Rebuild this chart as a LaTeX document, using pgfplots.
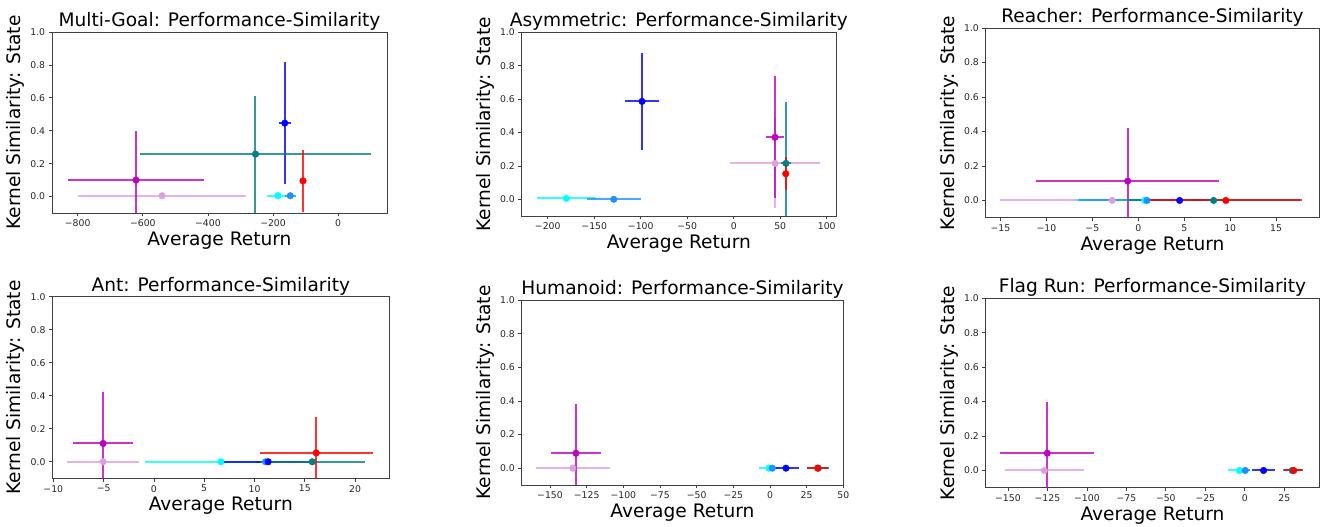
\documentclass[border=0pt]{standalone}
\usepackage{pgfplots}
\pgfplotsset{compat=1.18}
\usepackage{fontspec}
\setmainfont{DejaVu Sans}

\definecolor{cmag}{HTML}{BF00BF}
\definecolor{cplum}{HTML}{DDA0DD}
\definecolor{ccyan}{HTML}{00FFFF}
\definecolor{cdodger}{HTML}{1E90FF}
\definecolor{cblue}{HTML}{0000FF}
\definecolor{cteal}{HTML}{008080}
\definecolor{cred}{HTML}{FF0000}

\pgfplotsset{
  panel/.style={
    scale only axis, anchor=south west, clip=true,
    ymin=-0.1, ymax=1.0,
    ytick={0,0.2,0.4,0.6,0.8,1.0},
    yticklabels={0.0,0.2,0.4,0.6,0.8,1.0},
    tick align=outside, tick pos=left,
    major tick length=3.3pt,
    axis line style={black!75, line width=0.75pt},
    every tick/.style={black!75, line width=0.75pt},
    tick label style={font=\fontsize{9.3}{10}\selectfont, text=black!85},
    xlabel={Average Return},
    ylabel={Kernel Similarity: State},
    every axis x label/.style={at={(axis description cs:0.5,0)}, anchor=base,
      yshift=-32.5pt, font=\fontsize{18.6}{20}\selectfont},
    every axis y label/.style={at={(axis description cs:0,0.5)}, xshift=-31.5pt,
      rotate=90, anchor=base, font=\fontsize{18.6}{20}\selectfont},
    every axis title/.style={at={(axis description cs:0.5,1)}, anchor=base,
      yshift=5.6pt, font=\fontsize{18.6}{20}\selectfont},
  },
  % error bar segment (from lo to hi) and the mean point
  bar/.style={draw=#1, draw opacity=0.8, line width=2pt, no markers, forget plot},
  pt/.style={only marks, mark=*, mark size=3.3pt, color=#1,
    mark options={solid, fill=#1, draw=none}},
}

\begin{document}
\begin{tikzpicture}
\useasboundingbox (0pt,0pt) rectangle (1323pt,527pt);

% Multi-Goal
\begin{axis}[panel, at={(52pt,314pt)}, width=335pt, height=181pt,
  title={Multi-Goal: Performance-Similarity},
  xmin=-879, xmax=150,
  xtick={-800,-600,-400,-200,0},
  xticklabels={−800,−600,−400,−200,0}]
\addplot[bar=cplum] coordinates {(-798,0.005) (-284,0.005)};
\addplot[pt=cplum] coordinates {(-541,0.005)};
\addplot[bar=cmag] coordinates {(-831,0.10) (-411,0.10)};
\addplot[bar=cmag] coordinates {(-621,-0.20) (-621,0.40)};
\addplot[pt=cmag] coordinates {(-621,0.10)};
\addplot[bar=ccyan] coordinates {(-220,0.005) (-150,0.005)};
\addplot[pt=ccyan] coordinates {(-185,0.005)};
\addplot[bar=cdodger] coordinates {(-163,0.005) (-131,0.005)};
\addplot[pt=cdodger] coordinates {(-147,0.005)};
\addplot[bar=cblue] coordinates {(-182,0.446) (-146,0.446)};
\addplot[bar=cblue] coordinates {(-164,0.076) (-164,0.816)};
\addplot[pt=cblue] coordinates {(-164,0.446)};
\addplot[bar=cteal] coordinates {(-610,0.258) (102,0.258)};
\addplot[bar=cteal] coordinates {(-254,-0.097) (-254,0.613)};
\addplot[pt=cteal] coordinates {(-254,0.258)};
\addplot[bar=cred] coordinates {(-112,0.095) (-104,0.095)};
\addplot[bar=cred] coordinates {(-108,-0.095) (-108,0.285)};
\addplot[pt=cred] coordinates {(-108,0.095)};
\end{axis}

% Asymmetric
\begin{axis}[panel, at={(521.7pt,311pt)}, width=314.3pt, height=183.7pt,
  title={Asymmetric: Performance-Similarity},
  xmin=-228, xmax=110,
  xtick={-200,-150,-100,-50,0,50,100},
  xticklabels={−200,−150,−100,−50,0,50,100}]
\addplot[bar=cplum] coordinates {(-3.5,0.215) (92.5,0.215)};
\addplot[bar=cplum] coordinates {(44.5,-0.055) (44.5,0.485)};
\addplot[bar=cmag] coordinates {(34.4,0.371) (54.4,0.371)};
\addplot[bar=cmag] coordinates {(44.4,0.006) (44.4,0.736)};
\addplot[pt=cmag] coordinates {(44.4,0.371)};
\addplot[pt=cplum] coordinates {(44.5,0.215)};
\addplot[bar=ccyan] coordinates {(-212,0.005) (-148,0.005)};
\addplot[pt=ccyan] coordinates {(-180,0.005)};
\addplot[bar=cdodger] coordinates {(-158,0) (-100,0)};
\addplot[pt=cdodger] coordinates {(-129,0)};
\addplot[bar=cblue] coordinates {(-116.6,0.586) (-80.6,0.586)};
\addplot[bar=cblue] coordinates {(-98.6,0.296) (-98.6,0.876)};
\addplot[pt=cblue] coordinates {(-98.6,0.586)};
\addplot[bar=cteal] coordinates {(51.2,0.215) (61.2,0.215)};
\addplot[bar=cteal] coordinates {(56.2,-0.155) (56.2,0.585)};
\addplot[pt=cteal] coordinates {(56.2,0.215)};
\addplot[bar=cred] coordinates {(55,0.153) (57,0.153)};
\addplot[bar=cred] coordinates {(56,0.053) (56,0.253)};
\addplot[pt=cred] coordinates {(56,0.153)};
\end{axis}

% Reacher
\begin{axis}[panel, at={(985.7pt,309.3pt)}, width=333.6pt, height=189.7pt,
  title={Reacher: Performance-Similarity},
  xmin=-16.6, xmax=19.7,
  xtick={-15,-10,-5,0,5,10,15},
  xticklabels={−15,−10,−5,0,5,10,15}]
\addplot[bar=cplum] coordinates {(-15.03,0) (9.37,0)};
\addplot[pt=cplum] coordinates {(-2.83,0)};
\addplot[bar=cmag] coordinates {(-11.1,0.112) (8.8,0.112)};
\addplot[bar=cmag] coordinates {(-1.15,-0.198) (-1.15,0.422)};
\addplot[pt=cmag] coordinates {(-1.15,0.112)};
\addplot[bar=ccyan] coordinates {(-6.75,0) (8.15,0)};
\addplot[pt=ccyan] coordinates {(0.7,0)};
\addplot[bar=cdodger] coordinates {(-6.5,0) (8.4,0)};
\addplot[pt=cdodger] coordinates {(0.95,0)};
\addplot[bar=cblue] coordinates {(1.5,0) (7.5,0)};
\addplot[pt=cblue] coordinates {(4.5,0)};
\addplot[bar=cteal] coordinates {(-1.25,0) (17.65,0)};
\addplot[pt=cteal] coordinates {(8.2,0)};
\addplot[bar=cred] coordinates {(1.23,0) (17.83,0)};
\addplot[pt=cred] coordinates {(9.53,0)};
\end{axis}

% Ant
\begin{axis}[panel, at={(52.3pt,48.7pt)}, width=337pt, height=181.6pt,
  title={Ant: Performance-Similarity},
  xmin=-10.1, xmax=23.4,
  xtick={-10,-5,0,5,10,15,20},
  xticklabels={−10,−5,0,5,10,15,20}]
\addplot[bar=cplum] coordinates {(-8.65,0) (-1.45,0)};
\addplot[pt=cplum] coordinates {(-5.05,0)};
\addplot[bar=cmag] coordinates {(-8.05,0.111) (-2.05,0.111)};
\addplot[bar=cmag] coordinates {(-5.05,-0.199) (-5.05,0.421)};
\addplot[pt=cmag] coordinates {(-5.05,0.111)};
\addplot[bar=ccyan] coordinates {(-0.84,0) (14.16,0)};
\addplot[pt=ccyan] coordinates {(6.66,0)};
\addplot[bar=cdodger] coordinates {(10.1,0) (12.1,0)};
\addplot[pt=cdodger] coordinates {(11.1,0)};
\addplot[bar=cblue] coordinates {(6.86,0) (15.86,0)};
\addplot[pt=cblue] coordinates {(11.36,0)};
\addplot[bar=cteal] coordinates {(10.54,0) (20.94,0)};
\addplot[pt=cteal] coordinates {(15.74,0)};
\addplot[bar=cred] coordinates {(10.54,0.054) (21.74,0.054)};
\addplot[bar=cred] coordinates {(16.14,-0.166) (16.14,0.274)};
\addplot[pt=cred] coordinates {(16.14,0.054)};
\end{axis}

% Humanoid
\begin{axis}[panel, at={(521.7pt,42pt)}, width=321.6pt, height=185pt,
  title={Humanoid: Performance-Similarity},
  xmin=-169.3, xmax=50,
  xtick={-150,-125,-100,-75,-50,-25,0,25,50},
  xticklabels={−150,−125,−100,−75,−50,−25,0,25,50}]
\addplot[bar=cplum] coordinates {(-159.7,0) (-109.3,0)};
\addplot[pt=cplum] coordinates {(-134.5,0)};
\addplot[bar=cmag] coordinates {(-149.3,0.089) (-115.3,0.089)};
\addplot[bar=cmag] coordinates {(-132.3,-0.201) (-132.3,0.379)};
\addplot[pt=cmag] coordinates {(-132.3,0.089)};
\addplot[bar=ccyan] coordinates {(-7.7,0) (6.3,0)};
\addplot[pt=ccyan] coordinates {(-0.7,0)};
\addplot[bar=cdodger] coordinates {(-1.4,0) (4.6,0)};
\addplot[pt=cdodger] coordinates {(1.6,0)};
\addplot[bar=cblue] coordinates {(1.9,0) (19.9,0)};
\addplot[pt=cblue] coordinates {(10.9,0)};
\addplot[bar=cteal] coordinates {(25.5,0) (40.5,0)};
\addplot[pt=cteal] coordinates {(33,0)};
\addplot[bar=cred] coordinates {(25.5,0) (39.5,0)};
\addplot[pt=cred] coordinates {(32.5,0)};
\end{axis}

% Flag Run
\begin{axis}[panel, at={(985.7pt,39.3pt)}, width=333.6pt, height=189.4pt,
  title={Flag Run: Performance-Similarity},
  xmin=-164.1, xmax=47.2,
  xtick={-150,-125,-100,-75,-50,-25,0,25},
  xticklabels={−150,−125,−100,−75,−50,−25,0,25}]
\addplot[bar=cplum] coordinates {(-152,0) (-102,0)};
\addplot[pt=cplum] coordinates {(-127,0)};
\addplot[bar=cmag] coordinates {(-154.8,0.1) (-95.4,0.1)};
\addplot[bar=cmag] coordinates {(-125.1,-0.2) (-125.1,0.4)};
\addplot[pt=cmag] coordinates {(-125.1,0.1)};
\addplot[bar=ccyan] coordinates {(-10.4,0) (3.6,0)};
\addplot[pt=ccyan] coordinates {(-3.4,0)};
\addplot[bar=cdodger] coordinates {(-2.7,0) (3.3,0)};
\addplot[pt=cdodger] coordinates {(0.3,0)};
\addplot[bar=cblue] coordinates {(4.7,0) (19.1,0)};
\addplot[pt=cblue] coordinates {(11.9,0)};
\addplot[bar=cteal] coordinates {(24,0) (36,0)};
\addplot[pt=cteal] coordinates {(30,0)};
\addplot[bar=cred] coordinates {(25,0) (37,0)};
\addplot[pt=cred] coordinates {(31,0)};
\end{axis}
\end{tikzpicture}
\end{document}
